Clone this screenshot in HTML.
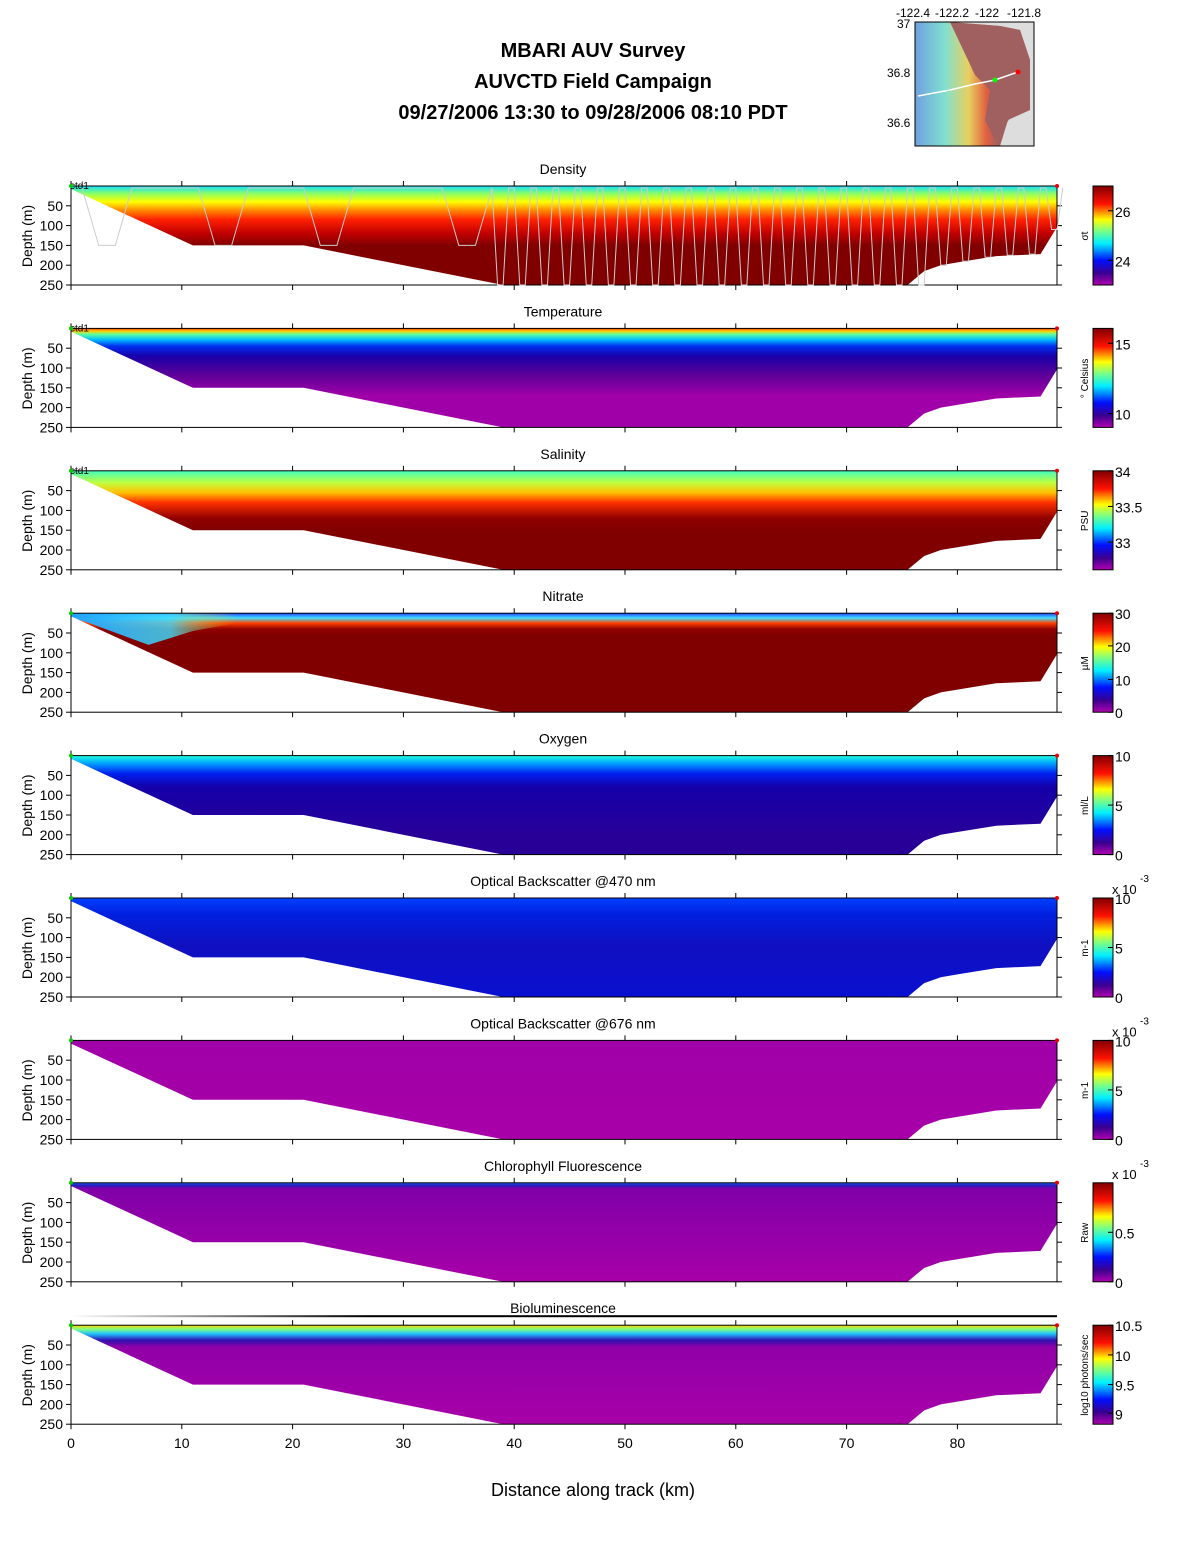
<!DOCTYPE html>
<html><head><meta charset="utf-8"><style>
body{margin:0;background:#fff;font-family:"Liberation Sans",sans-serif}
svg text{font-family:"Liberation Sans",sans-serif}
</style></head><body>
<svg id="fig" width="1188" height="1548" viewBox="0 0 1188 1548" xmlns="http://www.w3.org/2000/svg">
<defs>
<linearGradient id="jet" x1="0" y1="1" x2="0" y2="0">
<stop offset="0" stop-color="#b000b0"/><stop offset="0.12" stop-color="#3a0090"/><stop offset="0.25" stop-color="#0010ff"/><stop offset="0.42" stop-color="#00f0ff"/><stop offset="0.55" stop-color="#80ff80"/><stop offset="0.66" stop-color="#ffff00"/><stop offset="0.82" stop-color="#ff1000"/><stop offset="1" stop-color="#800000"/>
</linearGradient>
<linearGradient id="mapg" x1="0" y1="0" x2="1" y2="0">
<stop offset="0" stop-color="#70a0e0"/><stop offset="0.25" stop-color="#80e0d0"/><stop offset="0.45" stop-color="#e8d060"/><stop offset="0.6" stop-color="#e06040"/><stop offset="0.7" stop-color="#a06060"/>
</linearGradient>
<linearGradient id="blg" x1="0" y1="0" x2="1" y2="0"><stop offset="0" stop-color="#fff"/><stop offset="0.3" stop-color="#000"/></linearGradient>
<linearGradient id="nitL" x1="0" y1="0" x2="1" y2="0"><stop offset="0" stop-color="#20a0ff" stop-opacity="1"/><stop offset="0.6" stop-color="#40e0ff" stop-opacity="0.8"/><stop offset="1" stop-color="#ffe000" stop-opacity="0"/></linearGradient>
</defs>
<g font-weight="bold" font-size="20" text-anchor="middle">
<text x="593" y="57">MBARI AUV Survey</text>
<text x="593" y="88">AUVCTD Field Campaign</text>
<text x="593" y="119">09/27/2006 13:30  to 09/28/2006 08:10 PDT</text>
</g>
<g>
<rect x="915" y="22" width="119" height="124" fill="url(#mapg)"/>
<path d="M950 22 L1034 22 L1034 146 L1000 146 L1008 120 L1030 110 L1030 60 L1020 30 L1000 26 Z" fill="#ddd"/>
<path d="M950 22 L1000 26 L1020 30 L1030 60 L1030 110 L1010 118 L995 140 L985 120 L990 90 L975 75 Z" fill="#a06060"/>
<polyline points="918,96 950,90 975,84 995,80 1018,72" fill="none" stroke="#fff" stroke-width="1.5"/>
<circle cx="995" cy="80" r="2.5" fill="#0f0"/><circle cx="1018" cy="72" r="2.5" fill="#f00"/>
<rect x="915" y="22" width="119" height="124" fill="none" stroke="#000"/>
<g font-size="12"><text x="896" y="17">-122.4</text><text x="935" y="17">-122.2</text><text x="975" y="17">-122</text><text x="1007" y="17">-121.8</text>
<text x="897" y="28">37</text><text x="887" y="77">36.8</text><text x="887" y="127">36.6</text></g>
</g>
<g id="panels"></g>
<text x="593" y="1496" font-size="18" text-anchor="middle">Distance along track (km)</text>
</svg>
<script>
const titles=["Density","Temperature","Salinity","Nitrate","Oxygen","Optical Backscatter @470 nm","Optical Backscatter @676 nm","Chlorophyll Fluorescence","Bioluminescence"];
const units=["σt","° Celsius","PSU","µM","ml/L","m-1","m-1","Raw","log10 photons/sec"];
const xTicks=[0,10,20,30,40,50,60,70,80];
const depthTicks=[50,100,150,200,250];
const floorKm=[0,11,21,39,75.5,77,78.5,80,83.5,87.5,89,89];
const floorDepth=[8,150,150,250,250,215,200,193,177,172,103,0];
const cbLabels=[["26","24"],["15","10"],["34","33.5","33"],["30","20","10","0"],["10","5","0"],["10","5","0"],["10","5","0"],["0.5","0"],["10.5","10","9.5","9"]];
const cbFrac=[[0.25,0.75],[0.15,0.86],[0,0.36,0.72],[0,0.33,0.67,1],[0,0.5,1],[0,0.5,1],[0,0.5,1],[0.5,1],[0,0.3,0.6,0.89]];
const profiles=[
[[0,"#10e0ff"],[20,"#90ff60"],[40,"#ffff00"],[60,"#ff9000"],[85,"#ff2000"],[120,"#c00000"],[150,"#800000"]],
[[0,"#ff4000"],[7,"#ffd000"],[15,"#60ffa0"],[28,"#00c0ff"],[45,"#0030f0"],[70,"#1800a8"],[120,"#600098"],[170,"#a000a8"]],
[[0,"#40ffc0"],[30,"#c0ff40"],[55,"#ffc000"],[80,"#ff3000"],[120,"#900000"],[150,"#800000"]],
[[0,"#2040ff"],[12,"#40e0ff"],[25,"#ff4000"],[40,"#900000"],[60,"#800000"]],
[[0,"#20ffe0"],[20,"#00a0ff"],[45,"#0020f0"],[80,"#1400a8"],[200,"#280098"]],
[[0,"#0040ff"],[40,"#0020e0"],[120,"#1010c0"],[250,"#0a10d0"]],
[[0,"#a000a8"],[250,"#a800a8"]],
[[0,"#2060ff"],[6,"#2020c0"],[15,"#8000a8"],[250,"#a800a8"]],
[[0,"#ffd000"],[10,"#80ff80"],[22,"#20c0ff"],[38,"#3010b0"],[55,"#9000a8"],[250,"#a800a8"]]];
const nitWedgeKm=[0,15,15,11,7,0];
const nitWedgeDepth=[0,0,25,45,80,8];
const X0=71,KM=11.08,TOP0=186,STEP=142.4,DS=0.396,W=986,H=99;
const NS="http://www.w3.org/2000/svg";
const root=document.getElementById("panels");
function mk(t,a,p){const e=document.createElementNS(NS,t);for(const k in a)e.setAttribute(k,a[k]);p.appendChild(e);return e;}
const xs=k=>X0+k*KM;
titles.forEach((t,i)=>{
 const top=TOP0+i*STEP, ys=d=>top+d*DS;
 const g=mk("g",{},root);
 
 
 const gid="pg"+i;
 const lg=mk("linearGradient",{id:gid,gradientUnits:"userSpaceOnUse",x1:0,y1:top,x2:0,y2:top+H},mk("defs",{},g));
 profiles[i].forEach(s=>mk("stop",{offset:Math.min(1,s[0]/250),"stop-color":s[1]},lg));
 let pts=floorKm.map((k,j)=>xs(k)+","+ys(floorDepth[j])).join(" ");
 pts=xs(0)+","+ys(0)+" "+pts;
 const sec=mk("polygon",{points:pts,fill:"url(#"+gid+")"},g);
 
 
 if(i==3){
  const w=mk("polygon",{points:nitWedgeKm.map((k,j)=>xs(k)+","+ys(nitWedgeDepth[j])).join(" "),fill:"url(#nitL)"},g);
  
  
 }
 if(i==8){mk("rect",{x:71,y:top-10,width:986,height:2,fill:"url(#blg)"},g);}
 mk("rect",{x:71,y:top,width:W,height:H,fill:"none",stroke:"#000","stroke-width":1},g);
 const tt=mk("text",{x:563,y:top-12,"font-size":14,"text-anchor":"middle"},g);tt.textContent=t;
 
 
 xTicks.forEach(k=>{const x=xs(k);mk("line",{x1:x,x2:x,y1:top,y2:top-5,stroke:"#000"},g);mk("line",{x1:x,x2:x,y1:top+H,y2:top+H+5,stroke:"#000"},g);
  if(i==8){const l=mk("text",{x:x,y:top+H+24,"font-size":14,"text-anchor":"middle"},g);l.textContent=k;}});
 depthTicks.forEach(d=>{const y=ys(d);mk("line",{x1:71,x2:66,y1:y,y2:y,stroke:"#000"},g);mk("line",{x1:1057,x2:1062,y1:y,y2:y,stroke:"#000"},g);
  const l=mk("text",{x:63,y:y+5,"font-size":14,"text-anchor":"end"},g);l.textContent=d;});
 const yl=mk("text",{x:32,y:top+50,"font-size":14,"text-anchor":"middle",transform:"rotate(-90 32 "+(top+50)+")"},g);yl.textContent="Depth (m)";
 
 
 if(i<3){const s=mk("text",{x:70,y:top+3,"font-size":10},g);s.textContent="ctd1";}
 mk("circle",{cx:71,cy:top,r:2,fill:"#0c0"},g);mk("circle",{cx:1057,cy:top,r:2,fill:"#e00"},g);
 const cb=mk("rect",{x:1093,y:top,width:20,height:H,fill:"url(#jet)",stroke:"#000"},g);
 
 
 cbLabels[i].forEach((v,j)=>{const y=top+cbFrac[i][j]*H;mk("line",{x1:1113,x2:1108,y1:y,y2:y,stroke:"#000"},g);
  const l=mk("text",{x:1115,y:y+6,"font-size":14},g);l.textContent=v;});
 if(i>=5&&i<=7){const l=mk("text",{x:1112,y:top-4,"font-size":13},g);l.textContent="x 10";const e=mk("text",{x:1140,y:top-16,"font-size":10},g);e.textContent="-3";}
 const u=mk("text",{x:1088,y:top+50,"font-size":10,"text-anchor":"middle",transform:"rotate(-90 1088 "+(top+50)+")"},g);u.textContent=units[i];
 
 
});
const yoKm=[1,11.5,21,33.5,38,40,42,44,46,48,50,52,54,56,58,60,62,64,66,68,70,72,74,76,78,80,82,84,86,88];
const yoDepth=[150,150,150,150,250,250,250,250,250,250,250,250,250,250,250,250,250,250,250,250,250,250,250,250,200,190,180,175,172,110];
let p=[];yoKm.forEach((k,j)=>{const w=j<4?1.5:0.5;p.push(xs(k)+","+(TOP0+2));p.push(xs(k+w)+","+(TOP0+yoDepth[j]*DS));p.push(xs(k+w*2)+","+(TOP0+yoDepth[j]*DS));p.push(xs(k+w*3)+","+(TOP0+2));});
const yo=mk("polyline",{points:p.join(" "),fill:"none",stroke:"#ccc","stroke-width":1},root);


</script>
</body></html>
